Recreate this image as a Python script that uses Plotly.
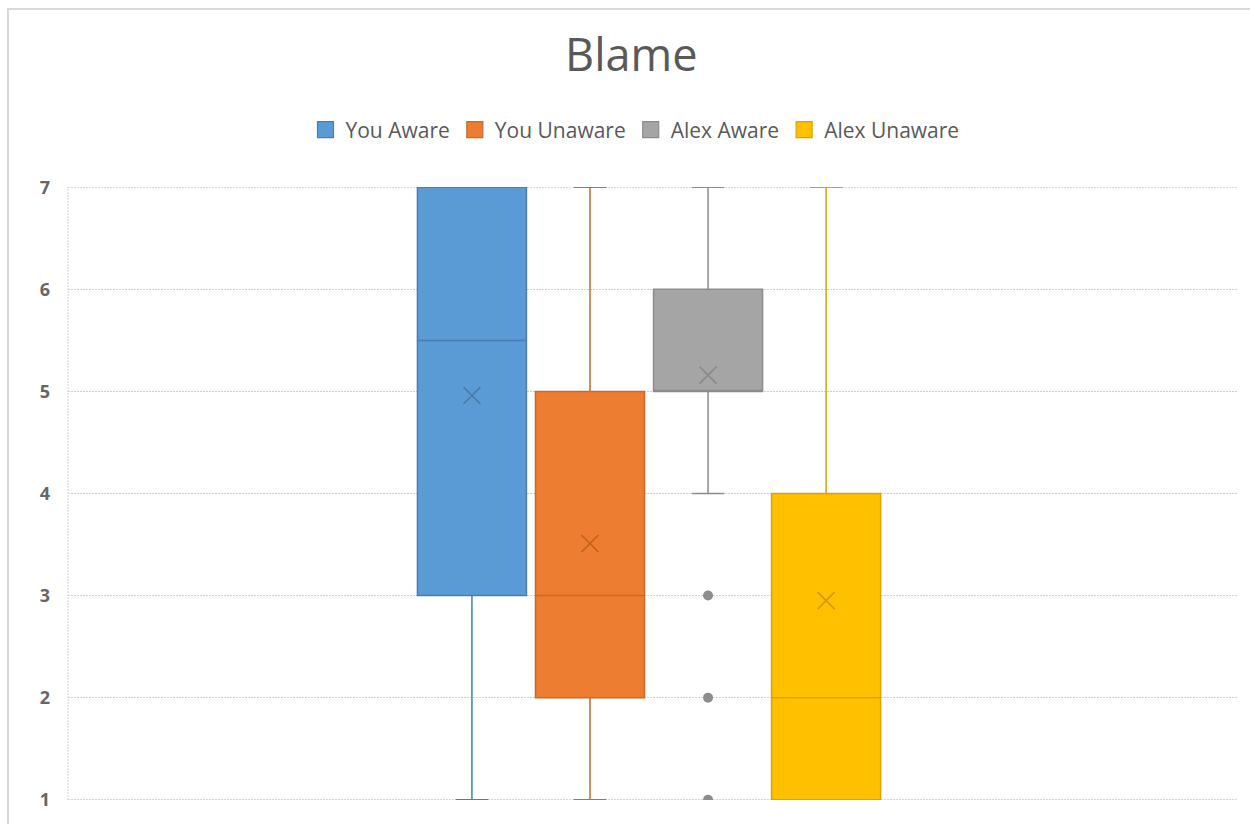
import plotly.graph_objects as go

# ---- data ----
series = ["You Aware", "You Unaware", "Alex Aware", "Alex Unaware"]
lower = [1, 1, 4, 1]
q1 = [3, 2, 5, 1]
median = [5.5, 3, 5, 2]
q3 = [7, 5, 6, 4]
upper = [7, 7, 7, 7]
means = [4.96, 3.51, 5.16, 2.95]
outliers = [[], [], [3, 2, 1], []]
y_ticks = [1, 2, 3, 4, 5, 6, 7]

# ---- styles ----
fills = ["#5B9BD5", "#ED7D31", "#A5A5A5", "#FFC000"]
edges = ["#4A7EB0", "#C9692A", "#8C8C8C", "#D9A300"]
mean_cols = ["#4A7AA8", "#C0631F", "#8A8A8A", "#D09A00"]
grid_col = "#CFCFCF"
grid_dash = "2px,1px"

# group layout (x in plot fraction)
group_center = 0.4966
slot = 0.1009
box_w = 0.0932
positions = [group_center + (i - (len(series) - 1) / 2) * slot for i in range(len(series))]

fig = go.Figure()
for i, name in enumerate(series):
    fig.add_trace(go.Box(
        name=name,
        x=[positions[i]],
        q1=[q1[i]], median=[median[i]], q3=[q3[i]],
        lowerfence=[lower[i]], upperfence=[upper[i]],
        width=box_w,
        fillcolor=fills[i],
        line=dict(color=edges[i], width=1.5),
        whiskerwidth=0.3,
        boxpoints=False,
        showlegend=False,
        legendgroup=name,
    ))
# legend entries (square swatches)
for i, name in enumerate(series):
    fig.add_trace(go.Scatter(
        x=[None], y=[None], mode="markers", name=name, legendgroup=name,
        marker=dict(symbol="square", size=16, color=fills[i],
                    line=dict(color=edges[i], width=1.2)),
        showlegend=True,
    ))
for i, name in enumerate(series):
    fig.add_trace(go.Scatter(
        x=[positions[i]], y=[means[i]], mode="markers",
        marker=dict(symbol="x-thin", size=17, line=dict(color=mean_cols[i], width=1.6)),
        showlegend=False, hoverinfo="skip",
    ))
    if outliers[i]:
        fig.add_trace(go.Scatter(
            x=[positions[i]] * len(outliers[i]), y=outliers[i], mode="markers",
            marker=dict(symbol="circle", size=10, color="#8C8C8C"),
            showlegend=False, hoverinfo="skip",
        ))

font_family = "Open Sans, Noto Sans, sans-serif"
shapes = [
    dict(type="rect", xref="paper", yref="paper",
         x0=(8 - 68) / 1170, x1=(1258 - 68) / 1170,
         y0=-0.2, y1=1 + (187 - 9) / 613,
         line=dict(color="#D9D9D9", width=2), layer="below"),
    dict(type="line", xref="paper", yref="paper", x0=0, x1=0, y0=0, y1=1,
         line=dict(color=grid_col, width=1, dash=grid_dash), layer="below"),
]
# gridlines at the range ends (plotly skips them at the edges)
for yv in (y_ticks[0], y_ticks[-1]):
    shapes.append(dict(type="line", xref="paper", yref="y", x0=0, x1=1, y0=yv, y1=yv,
                       line=dict(color=grid_col, width=1, dash=grid_dash), layer="below"))

fig.update_layout(
    width=1250, height=824,
    margin=dict(l=68, r=12, t=187, b=24),
    paper_bgcolor="white", plot_bgcolor="white",
    title=dict(text="Blame", x=0.505, xref="container", xanchor="center",
               y=1 - 55 / 824, yref="container", yanchor="middle",
               font=dict(family=font_family, size=45, color="#595959")),
    legend=dict(orientation="h", x=0.508, xref="container", xanchor="center",
                y=1 - 130 / 824, yref="container", yanchor="middle",
                font=dict(family=font_family, size=21, color="#595959"),
                itemwidth=30, traceorder="normal", itemsizing="trace"),
    xaxis=dict(range=[0, 1], showgrid=False, zeroline=False, showticklabels=False,
               showline=False, fixedrange=True),
    yaxis=dict(range=[0.997, 7.003], tickvals=y_ticks, showgrid=True, gridcolor=grid_col,
               griddash=grid_dash, gridwidth=1, zeroline=False,
               showline=False,
               ticks="", ticklabelstandoff=17,
               tickfont=dict(family=font_family, size=18, color="#666666", weight="bold")),
    showlegend=True,
    shapes=shapes,
)

fig.write_html("out.html")
